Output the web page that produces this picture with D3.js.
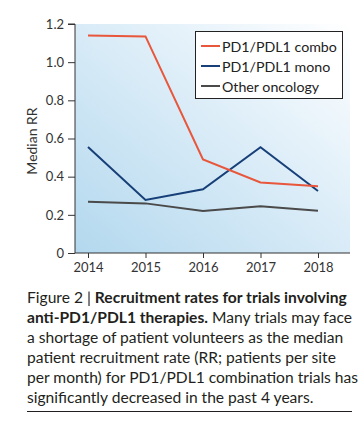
<!DOCTYPE html>
<html><head><meta charset="utf-8">
<script src="https://cdn.jsdelivr.net/npm/d3@7"></script>
<style>
html,body{margin:0;padding:0;background:#fff;}
svg{display:block;font-family:"Lato","Open Sans",sans-serif;}
</style></head>
<body>
<svg id="c" width="364" height="434"></svg>
<script>
const years = [2014, 2015, 2016, 2017, 2018];
const comboValues = [1.14, 1.135, 0.49, 0.37, 0.35];
const monoValues = [0.555, 0.278, 0.334, 0.554, 0.325];
const otherValues = [0.268, 0.26, 0.22, 0.245, 0.222];
const seriesNames = ["PD1/PDL1 combo", "PD1/PDL1 mono", "Other oncology"];
const seriesColors = ["#e8563b", "#173f78", "#4a4a4a"];
const yTicks = [0, 0.2, 0.4, 0.6, 0.8, 1.0, 1.2];
const captionLines = [
  [["Figure 2 | ", false], ["Recruitment rates for trials involving", true]],
  [["anti-PD1/PDL1 therapies.", true], [" Many trials may face", false]],
  [["a shortage of patient volunteers as the median", false]],
  [["patient recruitment rate (RR; patients per site", false]],
  [["per month) for PD1/PDL1 combination trials has", false]],
  [["significantly decreased in the past 4 years.", false]]
];

const svg = d3.select("#c");
const plot = {left: 75, right: 350, top: 24, bottom: 253};
const x = d3.scalePoint().domain(years).range([88, 318]);
const y = d3.scaleLinear().domain([0, 1.2]).range([plot.bottom, plot.top]);

const defs = svg.append("defs");
const grad = defs.append("linearGradient").attr("id", "bg")
  .attr("x1", "0").attr("y1", "1").attr("x2", "1").attr("y2", "0");
grad.append("stop").attr("offset", "0%").attr("stop-color", "#b3d8ee");
grad.append("stop").attr("offset", "55%").attr("stop-color", "#dcedf8");
grad.append("stop").attr("offset", "100%").attr("stop-color", "#ffffff");

svg.append("rect").attr("x", plot.left).attr("y", plot.top)
  .attr("width", plot.right - plot.left).attr("height", plot.bottom - plot.top)
  .attr("fill", "url(#bg)");

// axes
const yAxis = svg.append("g").attr("transform", `translate(${plot.left},0)`)
  .call(d3.axisLeft(y).tickValues(yTicks).tickSize(7).tickPadding(4)
    .tickFormat(d => d === 0 ? "0" : d3.format(".1f")(d)));
yAxis.select(".domain").attr("d", `M-7,${plot.top}H0V${plot.bottom}`).attr("stroke", "#333");
yAxis.selectAll(".tick line").attr("stroke", "#333");
yAxis.selectAll(".tick text").attr("font-size", 13).attr("fill", "#333").attr("font-family", "Lato");

const xAxis = svg.append("g").attr("transform", `translate(0,${plot.bottom})`)
  .call(d3.axisBottom(x).tickSize(5).tickPadding(5).tickFormat(d3.format("d")));
xAxis.select(".domain").attr("d", `M${plot.left},0H${plot.right}`).attr("stroke", "#333");
xAxis.selectAll(".tick line").attr("stroke", "#333");
xAxis.selectAll(".tick text").attr("font-size", 13).attr("fill", "#333").attr("font-family", "Lato");

svg.append("text").attr("transform", `translate(37,141) rotate(-90)`)
  .attr("text-anchor", "middle").attr("font-size", 14).attr("fill", "#333")
  .text("Median RR");

// lines
const seriesData = [otherValues, monoValues, comboValues];
const seriesIdx = [2, 1, 0];
const line = d3.line().x((d, i) => x(years[i])).y(d => y(d));
seriesData.forEach((vals, k) => {
  svg.append("path").datum(vals).attr("d", line)
    .attr("fill", "none").attr("stroke", seriesColors[seriesIdx[k]])
    .attr("stroke-width", 2).attr("stroke-linejoin", "miter");
});

// legend
const lg = svg.append("g");
lg.append("rect").attr("x", 195.5).attr("y", 31.5).attr("width", 147).attr("height", 67)
  .attr("fill", "#fff").attr("stroke", "#222").attr("stroke-width", 1);
const legTexts = [];
seriesNames.forEach((n, i) => {
  const yy = 46 + i * 20;
  lg.append("line").attr("x1", 201).attr("x2", 220).attr("y1", yy).attr("y2", yy)
    .attr("stroke", seriesColors[i]).attr("stroke-width", 2);
  legTexts.push(lg.append("text").attr("x", 222).attr("y", yy + 5.5).attr("font-size", 16)
    .attr("fill", "#222").text(n));
});
// fit legend font so the first label spans ~115px as in the reference
const w0 = legTexts[0].node().getComputedTextLength();
const fs = Math.min(16, 16 * 115 / w0);
legTexts.forEach(t => t.attr("font-size", fs));

// caption
const cap = svg.append("g");
captionLines.forEach((parts, i) => {
  const t = cap.append("text").attr("x", 27).attr("y", 303 + i * 20)
    .attr("font-size", 15.6).attr("fill", "#231f20");
  parts.forEach(p => {
    t.append("tspan").attr("font-weight", p[1] ? 700 : 400).text(p[0]);
  });
});
cap.append("line").attr("x1", 27).attr("x2", 352).attr("y1", 411.5).attr("y2", 411.5)
  .attr("stroke", "#231f20").attr("stroke-width", 1);
</script>
</body></html>
